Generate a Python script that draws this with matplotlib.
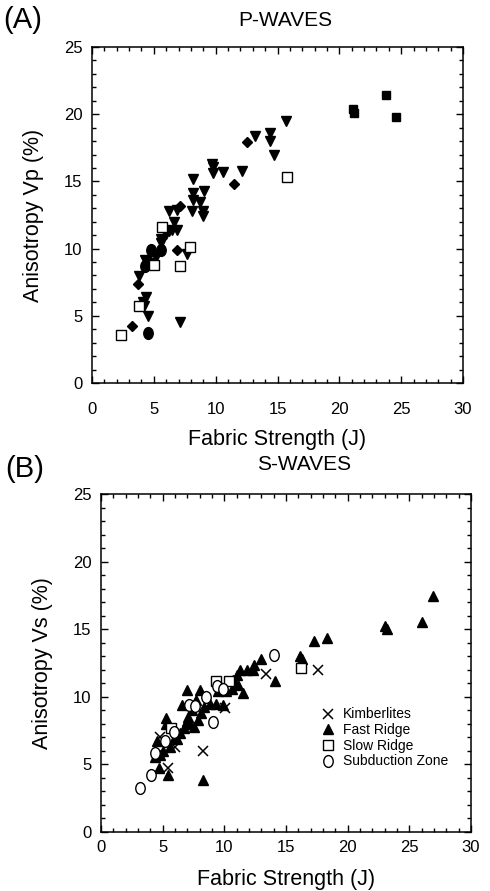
import matplotlib
matplotlib.use('Agg')
import matplotlib.pyplot as plt
from matplotlib.path import Path
from matplotlib.ticker import MultipleLocator

plt.rcParams['font.family'] = ['Liberation Sans', 'DejaVu Sans']

# panel A : P-waves
a_tri_x = [13.2, 14.4, 14.4, 14.7, 15.7, 9.7, 9.8, 9.8, 10.6, 12.1, 8.2, 8.2, 8.2, 9.05, 8.7,
           6.25, 6.85, 8.05, 8.95, 8.95, 6.6, 6.2, 6.5, 6.85, 5.6, 5.6, 6.0, 7.65, 4.3, 5.2,
           3.8, 4.35, 4.15, 4.2, 4.5, 7.1]
a_tri_y = [18.4, 18.6, 18.0, 17.0, 19.5, 16.3, 16.1, 15.6, 15.7, 15.8, 15.2, 14.1, 13.6, 14.3, 13.5,
           12.8, 12.9, 12.8, 12.8, 12.4, 12.0, 11.3, 11.4, 11.4, 10.7, 10.4, 11.1, 9.6, 9.15, 9.4,
           7.95, 6.4, 6.05, 5.7, 5.0, 4.55]
a_dia_x = [12.5, 11.5, 7.1, 6.9, 3.7, 3.2]
a_dia_y = [17.9, 14.8, 13.2, 9.9, 7.4, 4.25]
a_circ_x = [4.77, 5.58, 4.28, 4.69, 4.5]
a_circ_y = [9.9, 9.9, 8.7, 8.9, 3.7]
a_osq_x = [5.66, 7.95, 7.1, 5.0, 3.8, 2.35, 15.8]
a_osq_y = [11.6, 10.1, 8.7, 8.8, 5.75, 3.6, 15.3]
a_fsq_x = [21.1, 21.2, 23.8, 24.6]
a_fsq_y = [20.4, 20.1, 21.4, 19.8]

# panel B : S-waves
kimb_x = [4.8, 5.4, 6.0, 8.3, 10.05, 13.4, 17.6]
kimb_y = [7.05, 4.7, 6.3, 6.0, 9.15, 11.7, 12.0]
fast_x = [4.7, 5.4, 8.3, 4.4, 4.8, 4.5, 5.3, 5.3, 5.6, 6.2, 6.4, 6.73, 6.95, 7.08, 7.2, 7.35,
          7.7, 7.9, 8.0, 6.6, 7.5, 8.35, 8.84, 9.33, 9.5, 9.9, 10.1, 10.6, 10.7, 11.0, 11.3,
          11.55, 11.8, 12.4, 13.0, 12.35, 14.1, 11.1, 9.6, 16.1, 16.3, 17.3, 18.35, 23.0, 23.2,
          26.05, 26.9, 6.0, 7.0, 8.1, 5.0]
fast_y = [4.7, 4.2, 3.85, 5.57, 5.7, 6.7, 8.4, 8.0, 6.3, 6.9, 7.3, 7.67, 10.5, 8.5, 8.0, 9.0,
          9.76, 8.3, 10.5, 9.4, 7.8, 9.27, 9.5, 9.47, 10.4, 9.4, 10.4, 10.6, 11.24, 11.6, 12.0,
          10.3, 12.0, 12.35, 12.76, 12.0, 11.2, 10.9, 11.0, 13.05, 12.8, 14.15, 14.37, 15.2, 15.0,
          15.5, 17.45, 7.0, 8.2, 8.8, 6.0]
slow_x = [5.7, 9.3, 10.4, 16.2]
slow_y = [7.67, 11.2, 11.2, 12.1]
subd_x = [3.16, 4.05, 4.4, 5.2, 5.95, 7.16, 7.65, 8.5, 9.1, 9.4, 9.87, 14.05]
subd_y = [3.23, 4.2, 5.87, 6.75, 7.37, 9.4, 9.3, 9.96, 8.1, 10.8, 10.55, 13.1]

W, H = 490, 891
ellipse = Path.unit_circle().transformed(matplotlib.transforms.Affine2D().scale(0.8, 1.0))


def style_axes(ax, ylabel, xpad, ypad, tickpad_x):
    ax.set_xlim(0, 30)
    ax.set_ylim(0, 25)
    ax.xaxis.set_major_locator(MultipleLocator(5))
    ax.xaxis.set_minor_locator(MultipleLocator(1))
    ax.yaxis.set_major_locator(MultipleLocator(5))
    ax.yaxis.set_minor_locator(MultipleLocator(1))
    ax.tick_params(which='both', direction='in', top=True, right=True, width=1.0)
    ax.tick_params(which='major', length=5)
    ax.tick_params(which='minor', length=3)
    ax.tick_params(axis='x', which='major', pad=tickpad_x, labelsize=12)
    ax.tick_params(axis='y', which='major', pad=7, labelsize=12)
    for s in ax.spines.values():
        s.set_linewidth(1.1)
    ax.set_xlabel('Fabric Strength (J)', fontsize=15.5, labelpad=xpad)
    ax.set_ylabel(ylabel, fontsize=15.5, labelpad=ypad)


fig = plt.figure(figsize=(W / 100, H / 100), dpi=100)

axA = fig.add_axes([92 / W, 1 - 383 / H, 371 / W, 336 / H])
axA.plot(a_tri_x, a_tri_y, 'v', color='black', ms=7.5, ls='none')
axA.plot(a_dia_x, a_dia_y, 'D', color='black', ms=5.2, ls='none')
axA.plot(a_circ_x, a_circ_y, marker=ellipse, color='black', ms=8.5, ls='none')
axA.plot(a_osq_x, a_osq_y, 's', mfc='white', mec='black', mew=1.0, ms=6.5, ls='none')
axA.plot(a_fsq_x, a_fsq_y, 's', color='black', ms=6.3, ls='none')
style_axes(axA, 'Anisotropy Vp (%)', 8, 14, 14)

axB = fig.add_axes([101 / W, 1 - 832 / H, 370 / W, 338 / H])
axB.plot(kimb_x, kimb_y, 'x', color='black', ms=7.5, mew=1.1, ls='none', label='Kimberlites')
axB.plot(fast_x, fast_y, '^', color='black', ms=6.8, ls='none', label='Fast Ridge')
axB.plot(slow_x, slow_y, 's', mfc='white', mec='black', mew=1.0, ms=6.5, ls='none', label='Slow Ridge')
axB.plot(subd_x, subd_y, marker=ellipse, mfc='white', mec='black', mew=1.0, ms=8.5, ls='none',
         label='Subduction Zone')
style_axes(axB, 'Anisotropy Vs (%)', 10, 14, 6)
axB.legend(loc='upper left', bbox_to_anchor=(0.575, 0.385), frameon=False, fontsize=10,
           handletextpad=0.5, labelspacing=0.12, borderaxespad=0, handlelength=1.2)

fig.text(3 / W, 1 - 20 / H, '(A)', fontsize=21, va='center', ha='left')
fig.text(285 / W, 1 - 20 / H, 'P-WAVES', fontsize=15, va='center', ha='center')
fig.text(5 / W, 1 - 469 / H, '(B)', fontsize=21, va='center', ha='left')
fig.text(304 / W, 1 - 465 / H, 'S-WAVES', fontsize=15, va='center', ha='center')

fig.savefig('out.png', dpi=100)
